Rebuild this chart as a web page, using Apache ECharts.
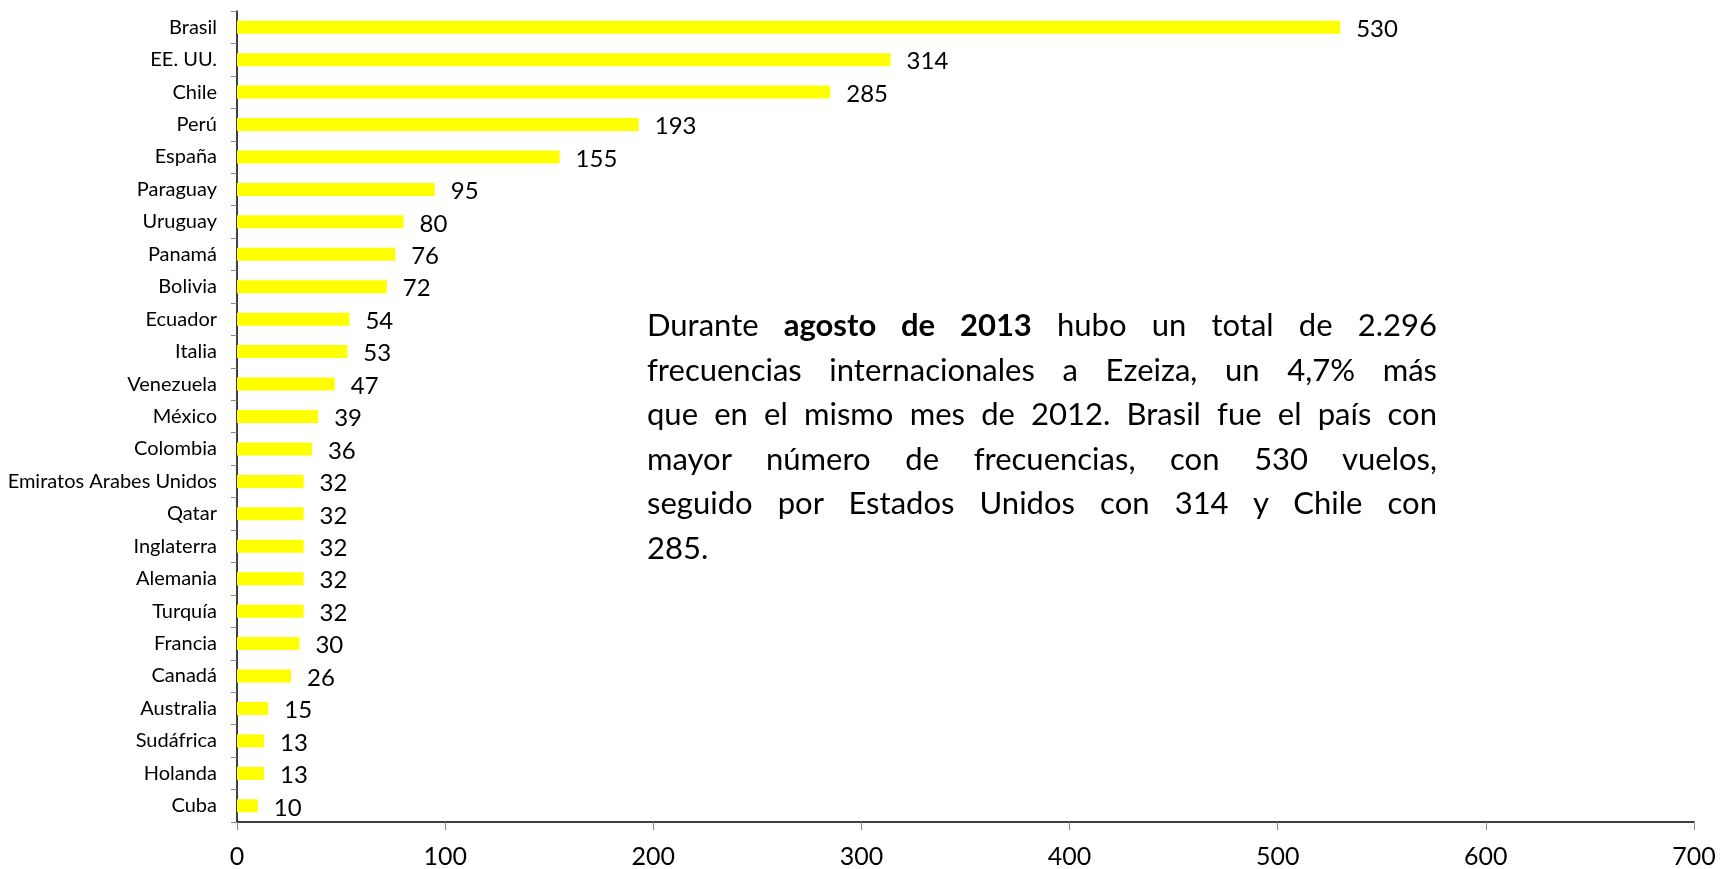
<!DOCTYPE html>
<html>
<head>
<meta charset="utf-8">
<script src="https://cdn.jsdelivr.net/npm/echarts@6/dist/echarts.min.js"></script>
<style>
  html, body { margin: 0; padding: 0; background: #fff; }
  #chart { width: 1720px; height: 869px; }
  #note {
    position: absolute; left: 647px; top: 302px; width: 790px;
    font-family: Lato, sans-serif; font-size: 31px; line-height: 44.5px; color: #000;
  }
  #note div { text-align: justify; text-align-last: justify; white-space: nowrap; }
  #note div.last { text-align-last: left; }
</style>
</head>
<body>
<div id="chart"></div>
<div id="note">
  <div>Durante <b>agosto de 2013</b> hubo un total de 2.296</div>
  <div>frecuencias internacionales a Ezeiza, un 4,7% más</div>
  <div>que en el mismo mes de 2012. Brasil fue el país con</div>
  <div>mayor número de frecuencias, con 530 vuelos,</div>
  <div>seguido por Estados Unidos con 314 y Chile con</div>
  <div class="last">285.</div>
</div>
<script>
var paises = ['Brasil', 'EE. UU.', 'Chile', 'Perú', 'España', 'Paraguay', 'Uruguay',
  'Panamá', 'Bolivia', 'Ecuador', 'Italia', 'Venezuela', 'México', 'Colombia',
  'Emiratos Arabes Unidos', 'Qatar', 'Inglaterra', 'Alemania', 'Turquía', 'Francia',
  'Canadá', 'Australia', 'Sudáfrica', 'Holanda', 'Cuba']
var frecuencias = [530, 314, 285, 193, 155, 95, 80, 76, 72, 54, 53, 47, 39, 36,
  32, 32, 32, 32, 32, 30, 26, 15, 13, 13, 10]

var chart = echarts.init(document.getElementById('chart'))
chart.setOption({
  animation: false,
  grid: { left: 237, right: 26, top: 11, bottom: 46, containLabel: false },
  xAxis: {
    type: 'value', min: 0, max: 700, interval: 100,
    axisLine: { show: true, lineStyle: { color: '#000', width: 1.5 } },
    axisTick: { show: true, length: 8, lineStyle: { color: '#888' } },
    axisLabel: { fontFamily: 'Lato', fontSize: 25, color: '#000', margin: 22 },
    splitLine: { show: false }
  },
  yAxis: {
    type: 'category', data: paises, inverse: true,
    axisLine: { show: true, lineStyle: { color: '#000', width: 1.5 } },
    axisTick: { show: true, length: 6, lineStyle: { color: '#888' } },
    axisLabel: { fontFamily: 'Lato', fontSize: 20, color: '#000', margin: 20 }
  },
  series: [{
    type: 'bar', data: frecuencias, barWidth: 13,
    itemStyle: { color: '#ffff00' },
    label: {
      show: true, position: 'right', distance: 16, offset: [0, 2],
      fontFamily: 'Lato', fontSize: 24, color: '#000'
    }
  }]
})
</script>
</body>
</html>
